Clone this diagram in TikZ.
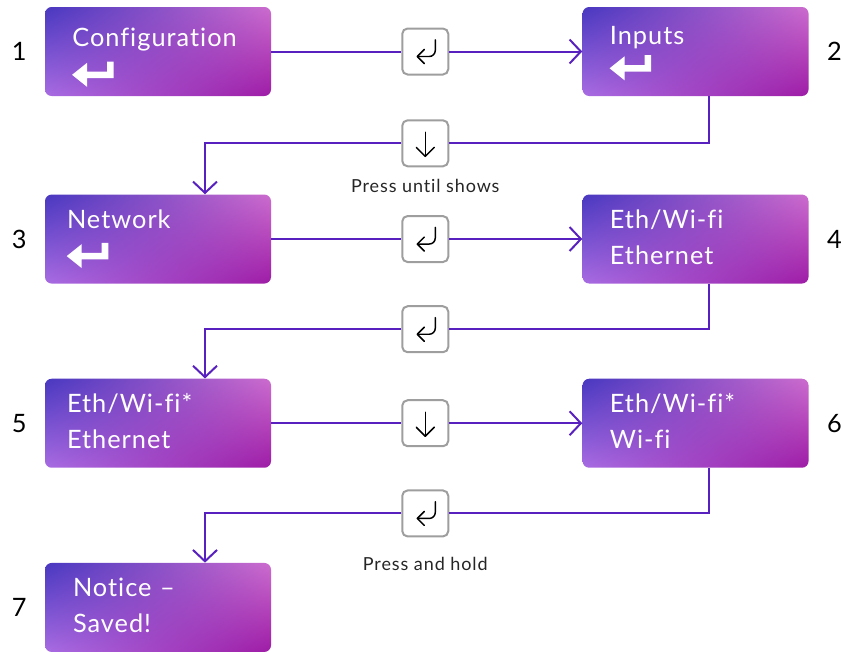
\documentclass[tikz,border=0pt]{standalone}
\usepackage{fontspec}
\setmainfont{Lato}[Ligatures=NoCommon]
\newfontfamily\screenfont{Lato}[LetterSpace=4, Ligatures=NoCommon]
\newfontfamily\notefont{Lato}[LetterSpace=5, Ligatures=NoCommon]
\usepackage{tikz}
\usetikzlibrary{arrows.meta,positioning,calc,shadings}

\definecolor{flowc}{RGB}{88,32,190}
\definecolor{btnedge}{RGB}{158,158,158}
\definecolor{boxtl}{RGB}{72,56,192}
\definecolor{boxtr}{RGB}{204,108,206}
\definecolor{boxbl}{RGB}{168,108,226}
\definecolor{boxbr}{RGB}{158,28,166}
\hyphenpenalty=10000
\exhyphenpenalty=10000

\begin{document}
\begin{tikzpicture}[x=0.75pt, y=0.75pt, node distance=71pt and 97.5pt]
\tikzset{
  box/.style={rounded corners=5pt, minimum width=169.5pt, minimum height=66.75pt, text width=128.5pt, inner xsep=20.5pt, inner ysep=0pt, align=left, text=white, font=\screenfont\fontsize{19}{27}\selectfont, shade, upper left=boxtl, upper right=boxtr, lower left=boxbl, lower right=boxbr},
  num/.style={font=\fontsize{19}{22}\selectfont, text=black, inner sep=0pt},
  btn/.style={draw=btnedge, line width=1.5pt, rounded corners=4pt, fill=white, minimum size=34.5pt, inner sep=0pt},
  btnicon/.style={draw=black, line width=1.1pt, line cap=round, line join=round},
  flow/.style={draw=flowc, line width=1.5pt, -{Straight Barb[length=8.5pt, width=18pt]}},
  note/.style={font=\notefont\fontsize{13.5}{16}\selectfont, text=black!85, inner sep=0pt},
  enter/.pic={\fill[white] (0,0) -- (15,12) -- (15,3.3) -- (35,3.3) -- (35,13.3) -- (41.6,13.3) -- (41.6,-3.3) -- (15,-3.3) -- (15,-12) -- cycle;},
  retkey/.pic={\draw[btnicon, rounded corners=4.5pt] (10,11.7) -- (10,-5) -- (-8,-5); \draw[btnicon] (-1,2) -- (-8,-5) -- (-1,-12);},
  downkey/.pic={\draw[btnicon] (0,11) -- (0,-13); \draw[btnicon] (-9,-4) -- (0,-13) -- (9,-4);}
}
\useasboundingbox (0,0) rectangle (843,-651);

% screens
\node[box] (b1) at (158,-51.5) {\rule{0pt}{28pt}Configuration\\\strut};
\node[box, right=233.25pt of b1] (b2) {\rule{0pt}{25pt}Inputs\\\strut};
\node[box, below=73.5pt of b1, inner xsep=16.5pt, text width=136.5pt] (b3) {\strut Network\\\strut};
\node[box, below=73.5pt of b2] (b4) {\strut Eth/Wi-fi\\\strut Ethernet};
\node[box, below=of b3, inner xsep=16.5pt, text width=136.5pt] (b5) {\strut Eth/Wi-fi*\\\strut Ethernet};
\node[box, below=of b4] (b6) {\strut Eth/Wi-fi*\\\strut Wi-fi};
\node[box, below=of b5, inner xsep=21pt, text width=127.5pt] (b7) {\strut Notice –\\\strut Saved!};
\pic at ([xshift=20.5pt,yshift=-17.5pt]b1.west) {enter};
\pic at ([xshift=20.5pt,yshift=-12.6pt]b2.west) {enter};
\pic at ([xshift=16.5pt,yshift=-12.8pt]b3.west) {enter};

% step numbers
\node[num, left=13.5pt of b1] (n1) {1};
\node[num, right=13.5pt of b2] (n2) {2};
\node[num, left=13.5pt of b3] (n3) {3};
\node[num, right=13.5pt of b4] (n4) {4};
\node[num, left=13.5pt of b5] (n5) {5};
\node[num, right=13.5pt of b6] (n6) {6};
\node[num, left=13.5pt of b7] (n7) {7};

% buttons
\node[btn, right=97.5pt of b1] (k1) {};
\node[btn, right=97.5pt of b3] (k3) {};
\node[btn, right=97.5pt of b5] (k5) {};
\coordinate (m2) at ($(b2.south)!0.48!(b3.north)$);
\coordinate (m4) at ($(b4.south)!0.48!(b5.north)$);
\coordinate (m6) at ($(b6.south)!0.48!(b7.north)$);
\node[btn] (k2) at (m2 -| k1) {};
\node[btn] (k4) at (m4 -| k1) {};
\node[btn] (k6) at (m6 -| k1) {};
\pic at (k1) {retkey};
\pic at (k2) {downkey};
\pic at (k3) {retkey};
\pic at (k4) {retkey};
\pic at (k5) {downkey};
\pic at (k6) {retkey};
\node[note, below=8.5pt of k2] (l2) {Press until shows};
\node[note, below=14.5pt of k6] (l6) {Press and hold};

% connectors
\draw[flow] (b1) -- (k1) -- (b2);
\draw[flow] ([xshift=10.1pt]b2.south) |- (k2) -| ([xshift=35.25pt]b3.north);
\draw[flow] (b3) -- (k3) -- (b4);
\draw[flow] ([xshift=10.1pt]b4.south) |- (k4) -| ([xshift=35.25pt]b5.north);
\draw[flow] (b5) -- (k5) -- (b6);
\draw[flow] ([xshift=10.1pt]b6.south) |- (k6) -| ([xshift=35.25pt]b7.north);
\end{tikzpicture}
\end{document}
